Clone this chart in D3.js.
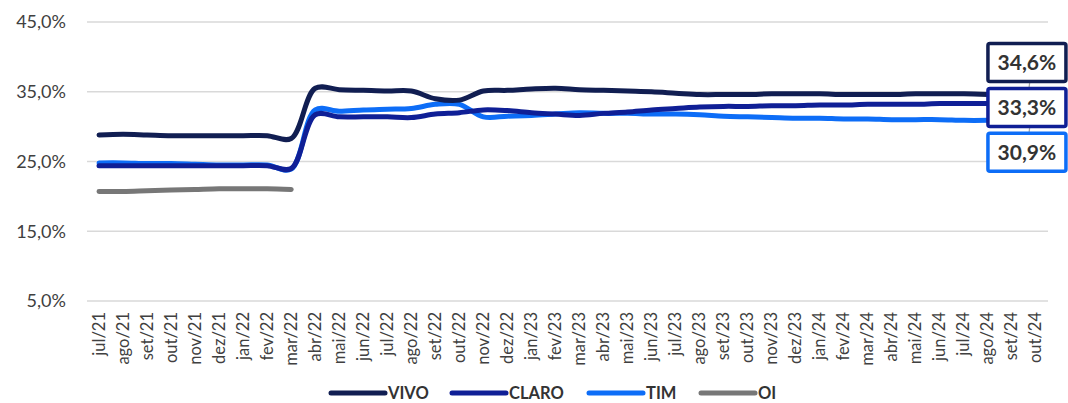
<!DOCTYPE html>
<html>
<head>
	<meta charset="utf-8">
	<title>Market share</title>
	<script type="text/javascript" src="https://d3js.org/d3.v7.min.js"></script>
	<style>
		body { margin: 0; background: #fff; }
		svg { font-family: "Source Sans Pro", Lato, "Noto Sans", sans-serif; }
	</style>
</head>
<body>

	<script type="text/javascript">
		// months on the x axis
		var months = ["jul/21","ago/21","set/21","out/21","nov/21","dez/21","jan/22","fev/22","mar/22",
			"abr/22","mai/22","jun/22","jul/22","ago/22","set/22","out/22","nov/22","dez/22",
			"jan/23","fev/23","mar/23","abr/23","mai/23","jun/23","jul/23","ago/23","set/23",
			"out/23","nov/23","dez/23","jan/24","fev/24","mar/24","abr/24","mai/24","jun/24",
			"jul/24","ago/24","set/24","out/24"];

		var yTicks = [5, 15, 25, 35, 45];

		// share in % (jul/21 .. ago/24)
		var vivo = [28.8,28.9,28.8,28.7,28.7,28.7,28.7,28.7,28.3,
			35.5,35.3,35.2,35.1,35.1,34.0,33.8,35.1,35.2,
			35.4,35.5,35.3,35.2,35.1,35.0,34.8,34.6,34.6,
			34.6,34.7,34.7,34.7,34.6,34.6,34.6,34.7,34.7,34.7,34.6];
		var claro = [24.4,24.4,24.4,24.4,24.4,24.4,24.4,24.4,24.0,
			31.7,31.4,31.4,31.4,31.3,31.8,32.0,32.4,32.3,
			32.0,31.8,31.6,31.9,32.1,32.4,32.6,32.8,32.9,
			32.9,33.0,33.0,33.1,33.1,33.2,33.2,33.2,33.3,33.3,33.3];
		var tim = [24.8,24.8,24.7,24.7,24.6,24.5,24.5,24.5,23.9,
			32.4,32.2,32.4,32.5,32.6,33.2,33.2,31.4,31.5,
			31.6,31.8,32.0,31.9,31.9,31.8,31.8,31.7,31.5,
			31.4,31.3,31.2,31.2,31.1,31.1,31.0,31.0,31.0,30.9,30.9];
		var oi = [20.7,20.7,20.8,20.9,21.0,21.1,21.1,21.1,21.0];

		var names = ["VIVO","CLARO","TIM","OI"];
		var colors = ["#111e52","#0f1f96","#0d6df7","#777777"];
		var values = [vivo, claro, tim, oi];
		// end labels: value shown, vertical box centre offset from line end
		var endLabels = ["34,6%","33,3%","30,9%",null];
		var labelDy = [-32, 4, 32, null];

		var W = 1068, H = 403;
		var svg = d3.select("body").append("svg").attr("width", W).attr("height", H);

		var x = d3.scaleBand().domain(months).range([87, 1048]);
		var y = d3.scaleLinear().domain([5, 45]).range([301, 22]);
		var cx = function (m) { return x(m) + x.bandwidth() / 2; };

		// grid
		svg.append("g").selectAll("line")
			.data(yTicks).enter().append("line")
			.attr("x1", 87).attr("x2", 1048)
			.attr("y1", function (d) { return y(d); })
			.attr("y2", function (d) { return y(d); })
			.attr("stroke", "#d9d9d9").attr("stroke-width", 1.5);

		// y labels
		svg.append("g").selectAll("text")
			.data(yTicks).enter().append("text")
			.attr("x", 66).attr("y", function (d) { return y(d); })
			.attr("dy", "0.35em").attr("text-anchor", "end")
			.attr("font-size", 18).attr("fill", "#404040")
			.text(function (d) { return d3.format(".1f")(d).replace(".", ",") + "%"; });

		// x labels, rotated
		svg.append("g").selectAll("text")
			.data(months).enter().append("text")
			.attr("transform", function (d) { return "translate(" + (cx(d) + 5.5) + ",312) rotate(-90)"; })
			.attr("text-anchor", "end")
			.attr("font-size", 16.5).attr("fill", "#404040")
			.text(function (d) { return d; });

		// lines
		var line = d3.line()
			.x(function (d, i) { return cx(months[i]); })
			.y(function (d) { return y(d); })
			.curve(d3.curveCatmullRom.alpha(0.5));

		var order = [3, 2, 1, 0];
		svg.append("g").selectAll("path")
			.data(order).enter().append("path")
			.attr("d", function (k) { return line(values[k]); })
			.attr("fill", "none")
			.attr("stroke", function (k) { return colors[k]; })
			.attr("stroke-width", 5)
			.attr("stroke-linecap", "round")
			.attr("stroke-linejoin", "round");

		// end labels
		var lastIdx = vivo.length - 1;
		var lx = cx(months[lastIdx]);
		var bw = 78, bh = 38;
		var lab = svg.append("g");
		[0, 1, 2].forEach(function (k) {
			var cy = y(values[k][lastIdx]) + labelDy[k];
			if (k > 0) {
				lab.append("line")
					.attr("x1", lx + 42).attr("x2", lx + 41)
					.attr("y1", cy - bh / 2 - 8).attr("y2", cy - bh / 2)
					.attr("stroke", "#a6a6a6").attr("stroke-width", 1.2);
			}
		});
		[0, 1, 2].forEach(function (k) {
			var cy = y(values[k][lastIdx]) + labelDy[k];
			lab.append("rect")
				.attr("x", lx).attr("y", cy - bh / 2)
				.attr("width", bw).attr("height", bh)
				.attr("rx", 2)
				.attr("fill", "#fff")
				.attr("stroke", colors[k]).attr("stroke-width", 3.5);
			lab.append("text")
				.attr("x", lx + bw / 2).attr("y", cy)
				.attr("dy", "0.36em").attr("text-anchor", "middle")
				.attr("font-size", 21).attr("font-weight", "bold")
				.attr("fill", "#333")
				.text(endLabels[k]);
		});

		// legend
		var legX = [331, 452, 589, 701];
		var leg = svg.append("g").selectAll("g")
			.data(names).enter().append("g")
			.attr("transform", function (d, i) { return "translate(" + legX[i] + ",393)"; });
		leg.append("line")
			.attr("x1", 0).attr("x2", 54)
			.attr("stroke", function (d, i) { return colors[i]; })
			.attr("stroke-width", 5).attr("stroke-linecap", "round");
		leg.append("text")
			.attr("x", 57).attr("dy", "0.35em")
			.attr("font-size", 16.5).attr("font-weight", "bold")
			.attr("fill", "#333")
			.text(function (d) { return d; });
	</script>
</body>
</html>
